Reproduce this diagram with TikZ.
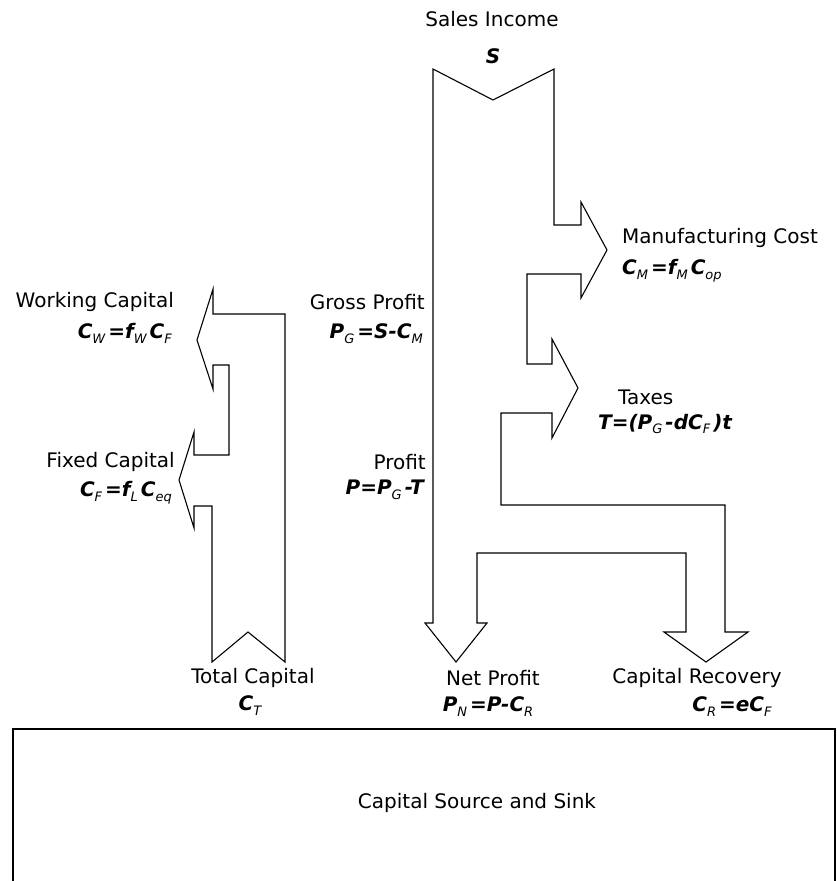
\documentclass[tikz,border=0pt]{standalone}
\usepackage{fontspec}
\setmainfont{DejaVu Sans}
\newcommand\sbx[1]{\raisebox{-0.45ex}{\fontsize{13}{13}\selectfont\mdseries\itshape #1}\hspace{3pt}}
\tikzset{
  lbl/.style={font=\fontsize{20}{22}\selectfont, inner sep=0pt},
  eqn/.style={font=\fontsize{20}{22}\selectfont\bfseries\itshape, inner sep=0pt},
  flow/.style={draw=black, line width=1.1pt, line join=miter},
  sinkbox/.style={draw=black, line width=2pt}
}
\begin{document}
\begin{tikzpicture}[x=1pt,y=-1pt]
\useasboundingbox (0,0) rectangle (837,881);
\clip (0,0) rectangle (837,881);
\fill[white] (0,0) rectangle (837,881);

% main flow (sales income and its branches)
\draw[flow] (433,69) -- (493,100) -- (554,69) -- (554,225) -- (581,225) -- (581,202)
  -- (607,250) -- (581,298) -- (581,274) -- (527,274) -- (527,364) -- (552,364)
  -- (552,339) -- (578,388) -- (552,438) -- (552,413) -- (501,413) -- (501,505)
  -- (725,505) -- (725,632) -- (748,632) -- (706,662) -- (664,632) -- (686,632)
  -- (686,553) -- (477,553) -- (477,623) -- (487,623) -- (456,662) -- (425,623)
  -- (433,623) -- cycle;

% capital flow (total capital)
\draw[flow] (285,314) -- (213,314) -- (213,289) -- (197,340) -- (213,389) -- (213,365)
  -- (229,365) -- (229,455) -- (194,455) -- (194,432) -- (179,480) -- (194,528)
  -- (194,506) -- (212,506) -- (212,662) -- (248,632) -- (285,662) -- cycle;

% sink box
\draw[sinkbox] (13,729) rectangle (835,900);
\node[lbl] (sink) at (477,803) {Capital Source and Sink};

% labels
\node[lbl] (sales) at (492,19) {Sales Income};
\node[eqn] (salesEq) at (493,56) {S};

\node[lbl, anchor=west] (manu) at (622,238) {Manufacturing Cost};
\node[eqn, anchor=west] (manuEq) at (622,271) {C\sbx{M}=f\sbx{M}C\sbx{op}};

\node[lbl, anchor=west] (tax) at (618,397) {Taxes};
\node[eqn, anchor=west] (taxEq) at (598,424) {T=(P\sbx{G}-dC\sbx{F})t};

\node[lbl, anchor=east] (gross) at (425,302) {Gross Profit};
\node[eqn, anchor=east] (grossEq) at (423,334) {P\sbx{G}=S-C\sbx{M}};

\node[lbl, anchor=east] (profit) at (426,462) {Profit};
\node[eqn, anchor=east] (profitEq) at (424,490) {P=P\sbx{G}-T};

\node[lbl, anchor=east] (work) at (174,302) {Working Capital};
\node[eqn, anchor=east] (workEq) at (172,333) {C\sbx{W}=f\sbx{W}C\sbx{F}};

\node[lbl, anchor=east] (fixed) at (175,462) {Fixed Capital};
\node[eqn, anchor=east] (fixedEq) at (172,493) {C\sbx{F}=f\sbx{L}C\sbx{eq}};

\node[lbl] (total) at (253,678) {Total Capital};
\node[eqn] (totalEq) at (250,706) {C\sbx{T}};

\node[lbl] (net) at (493,678) {Net Profit};
\node[eqn] (netEq) at (488,707) {P\sbx{N}=P-C\sbx{R}};

\node[lbl] (recov) at (697,678) {Capital Recovery};
\node[eqn] (recovEq) at (732,707) {C\sbx{R}=eC\sbx{F}};
\end{tikzpicture}
\end{document}
